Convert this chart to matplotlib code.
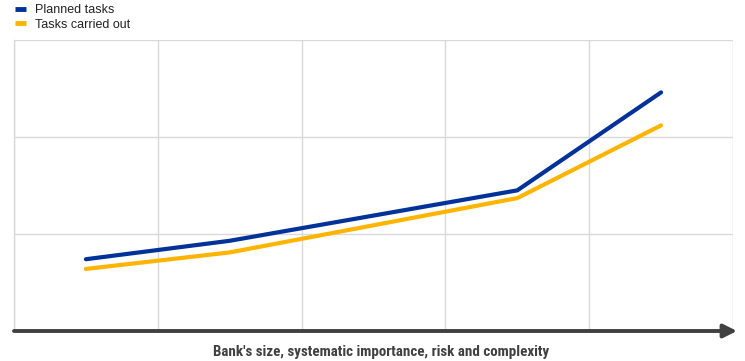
import matplotlib
matplotlib.use("Agg")
import matplotlib.pyplot as plt
from matplotlib import font_manager

x_pos = [0.5, 1.5, 3.5, 4.5]
planned = [0.74, 0.93, 1.45, 2.46]
carried_out = [0.64, 0.81, 1.37, 2.12]
series_labels = ["Planned tasks", "Tasks carried out"]
x_label = "Bank's size, systematic importance, risk and complexity"

BLUE = "#003299"
YELLOW = "#FFB400"
GRID = "#D9D9D9"
AXIS = "#404040"

names = {f.name for f in font_manager.fontManager.ttflist}
narrow = "Liberation Sans Narrow" if "Liberation Sans Narrow" in names else "Roboto Condensed" if "Roboto Condensed" in names else "Liberation Sans"

fig = plt.figure(figsize=(7.45, 3.61), dpi=100)
ax = fig.add_axes([14/745, 1 - 331/361, (733-14)/745, (331-40)/361])

ax.plot(x_pos, planned, color=BLUE, lw=3.0, solid_capstyle="round", label=series_labels[0])
ax.plot(x_pos, carried_out, color=YELLOW, lw=3.0, solid_capstyle="round", label=series_labels[1])

ax.set_xlim(0, 5)
ax.set_ylim(0, 3)
ax.set_xticks([0, 1, 2, 3, 4, 5])
ax.set_yticks([1, 2, 3])
ax.grid(True, color=GRID, lw=1.0)
ax.set_axisbelow(True)
ax.tick_params(length=0, labelbottom=False, labelleft=False)
for s in ["top", "right", "bottom"]:
    ax.spines[s].set_visible(False)
ax.spines["left"].set_color(GRID)
ax.spines["left"].set_linewidth(1.0)

# axis arrow
ax.annotate("", xy=(737/745, 1 - 331/361), xytext=(14/745, 1 - 331/361),
            xycoords="figure fraction", textcoords="figure fraction",
            arrowprops=dict(arrowstyle="-|>,head_length=0.8,head_width=0.4", color=AXIS, lw=2.8,
                            shrinkA=0, shrinkB=0))

fig.text(381/745, 1 - 352/361, x_label, ha="center", va="center",
         fontsize=10.8, color=AXIS, family=narrow, fontweight="bold")

leg = fig.legend(loc="upper left", bbox_to_anchor=(10/745, 1 + 1/361), frameon=False,
                 prop={"family": "Liberation Sans", "size": 9}, handlelength=0.9,
                 handletextpad=0.7, labelspacing=0.2, borderaxespad=0)
for h in leg.get_lines():
    h.set_solid_capstyle("butt")
    h.set_linewidth(3.5)
for t in leg.get_texts():
    t.set_color("#222222")

fig.savefig("out.png", dpi=100)
